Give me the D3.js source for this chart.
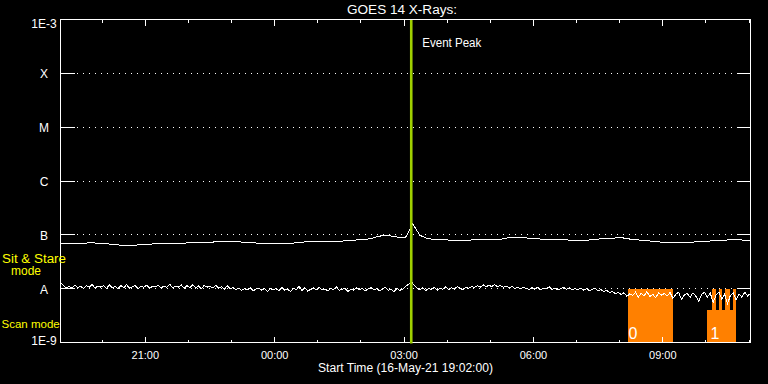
<!DOCTYPE html>
<html><head><meta charset="utf-8">
<script src="https://cdn.jsdelivr.net/npm/d3@7"></script>
<style>
body{margin:0;background:#000}
svg{display:block}
text{font-family:"Liberation Sans",Arial,sans-serif;fill:#fff}
</style>
</head><body>
<svg id="c" width="768" height="384"></svg>
<script>
// ---------- data ----------
const chartTitle = "GOES 14 X-Rays:";
const xAxisTitle = "Start Time (16-May-21 19:02:00)";
const startTime = "2021-05-16T19:02:00Z";
const endTime = "2021-05-17T11:02:00Z";
const xTickLabels = ["21:00", "00:00", "03:00", "06:00", "09:00"];
const yTickValues = [1e-9, 1e-8, 1e-7, 1e-6, 1e-5, 1e-4, 1e-3];
const yTickLabels = ["1E-9", "A", "B", "C", "M", "X", "1E-3"];
const eventPeakTime = "2021-05-17T03:10:00Z";
const eventLabel = "Event Peak";
const modeLabelTexts = ["Sit & Stare", "mode", "Scan mode"];

// long channel (1-8 A), flux in units of 1e-9 W/m^2, every 10 minutes from start
const longStepMin = 10;
const longFlux = [
  69, 68, 68, 68, 72, 70, 69, 67, 65, 63, 64, 65, 66, 68, 68, 69, 70, 70, 71, 72,
  73, 73, 75, 76, 76, 74, 71, 71, 69, 68, 68, 70, 70, 71, 74, 74, 74, 74, 76, 76,
  79, 80, 82, 84, 92, 98, 95, 90, 89, 160, 98, 86, 82, 82, 80, 80, 80, 80, 81, 83,
  83, 81, 87, 90, 89, 87, 86, 83, 83, 82, 82, 79, 77, 79, 81, 84, 85, 87, 89, 84,
  82, 78, 77, 74, 73, 73, 72, 71, 73, 76, 76, 78, 78, 81, 81, 80, 80
];

// short channel (0.5-4 A), flux in units of 1e-9 W/m^2, every 4 minutes from start
const shortStepMin = 4;
const shortFlux = [
  13.0, 11.5, 10.4, 11.0, 10.2, 11.6, 10.5, 11.2, 10.0, 11.4, 10.6, 12.0, 10.3, 11.1, 10.7,
  11.3, 10.1, 11.8, 10.5, 11.0, 9.9, 11.5, 10.4, 11.9, 10.2, 10.9, 11.4, 10.0, 11.2, 10.6,
  11.7, 10.3, 11.0, 10.8, 11.6, 10.1, 11.3, 10.6, 12.1, 10.4, 11.1, 10.7, 11.8, 10.2, 11.4,
  10.5, 11.9, 10.3, 11.2, 10.0, 11.5, 10.7, 11.0, 10.4, 11.6, 10.2, 10.9, 9.8, 11.3, 10.0,
  10.5, 9.6, 10.2, 9.3, 10.0, 9.5, 10.4, 9.1, 9.8, 10.3, 9.4, 9.9, 8.9, 10.1, 9.5,
  10.0, 9.2, 10.6, 9.4, 9.8, 8.8, 10.2, 9.6, 11.0, 9.3, 10.4, 9.0, 9.7, 10.3, 9.5,
  10.5, 9.4, 9.9, 9.0, 10.2, 9.6, 10.8, 9.3, 9.7, 10.1, 8.9, 9.8, 9.4, 10.3, 9.6,
  10.0, 9.2, 9.8, 10.4, 9.5, 10.0, 9.1, 9.9, 10.5, 9.4, 9.7, 8.8, 10.1, 9.3, 9.8,
  11.0, 12.0, 13.5, 11.5, 10.2, 9.5, 10.4, 9.2, 10.1, 9.6, 10.6, 9.3, 10.2, 9.7, 10.8,
  9.5, 10.4, 9.8, 10.9, 10.1, 9.6, 10.7, 10.2, 11.0, 10.5, 11.4, 10.6, 11.8, 10.9, 11.5,
  11.0, 11.9, 10.8, 11.5, 10.6, 11.2, 10.4, 11.0, 10.1, 10.7, 9.9, 10.5, 10.2, 9.7, 10.4,
  9.8, 10.6, 9.5, 10.2, 9.9, 10.8, 9.6, 10.3, 9.4, 10.1, 10.6, 9.7, 10.4, 9.5, 10.0,
  9.6, 10.2, 9.4, 9.9, 9.2, 9.8, 10.3, 9.1, 9.6, 8.8, 9.3, 8.4, 8.9, 8.0, 8.6,
  7.8, 8.4, 7.2, 8.0, 7.5, 8.6, 7.0, 8.2, 7.4, 8.8, 7.1, 7.9, 6.8, 8.3, 7.6,
  8.1, 7.3, 8.5, 6.6, 7.8, 8.6, 6.3, 7.7, 8.2, 6.9, 8.4, 7.2, 5.8, 7.9, 8.5,
  7.0, 8.3, 5.5, 7.6, 8.7, 6.4, 7.9, 5.2, 7.5, 8.4, 6.2, 8.0, 6.9, 8.6, 7.3,
  8.2
];

// instrument mode spans: [start, end, top flux W/m^2]
const modeSpanStart = ["2021-05-17T08:11:00Z", "2021-05-17T10:02:00Z", "2021-05-17T10:08:00Z", "2021-05-17T10:17:30Z", "2021-05-17T10:27:00Z", "2021-05-17T10:37:00Z"];
const modeSpanEnd   = ["2021-05-17T09:13:30Z", "2021-05-17T10:42:00Z", "2021-05-17T10:13:30Z", "2021-05-17T10:23:00Z", "2021-05-17T10:33:00Z", "2021-05-17T10:42:00Z"];
const modeSpanTop   = [1e-8, 4.1e-9, 1e-8, 1e-8, 1e-8, 1e-8];
const modeValueLabels = ["0", "1"];
const modeValueTimes = ["2021-05-17T08:11:00Z", "2021-05-17T10:02:00Z"];

// ---------- drawing ----------
const svg = d3.select("#c");
const W = 768, H = 384;
const L = 60.5, R = 750.5, T = 19.5, B = 342.5;

svg.append("rect").attr("width", W).attr("height", H).attr("fill", "#000");

const t0 = new Date(startTime), t1 = new Date(endTime);
const x = d3.scaleUtc().domain([t0, t1]).range([L, R]);
const y = d3.scaleLog().domain([1e-9, 1e-3]).range([B, T]);
const crisp = v => Math.round(v - 0.5) + 0.5;

// dotted grid lines at class levels
const gridLevels = yTickValues.slice(1, -1);
svg.append("g").selectAll("line").data(gridLevels).join("line")
  .attr("x1", 77).attr("x2", 736)
  .attr("y1", d => crisp(y(d))).attr("y2", d => crisp(y(d)))
  .attr("stroke", "#fff").attr("stroke-width", 1)
  .attr("stroke-dasharray", "1 5").attr("shape-rendering", "crispEdges");

// mode spans
const modeData = modeSpanStart.map((s, i) => ({ s: new Date(s), e: new Date(modeSpanEnd[i]), top: modeSpanTop[i] }));
svg.append("g").selectAll("rect").data(modeData).join("rect")
  .attr("x", d => Math.round(x(d.s)))
  .attr("width", d => Math.round(x(d.e)) - Math.round(x(d.s)))
  .attr("y", d => Math.round(y(d.top)))
  .attr("height", d => Math.round(B + 0.5) - Math.round(y(d.top)))
  .attr("fill", "#ff8000").attr("shape-rendering", "crispEdges");

svg.append("g").selectAll("text").data(modeValueLabels).join("text")
  .attr("x", (d, i) => x(new Date(modeValueTimes[i])) + (i === 0 ? 1 : 3))
  .attr("y", 339)
  .attr("font-size", 16)
  .text(d => d);

// curves
svg.append("clipPath").attr("id", "plotclip").append("rect")
  .attr("x", L).attr("y", T).attr("width", R - L).attr("height", B - T);

const line = d3.line().x(d => x(d.t)).y(d => y(d.v));
const longData = longFlux.map((v, i) => ({ t: new Date(+t0 + i * longStepMin * 60000), v: v * 1e-9 }));
const shortData = shortFlux.map((v, i) => ({ t: new Date(+t0 + i * shortStepMin * 60000), v: v * 1e-9 }));

svg.append("path").datum(longData).attr("d", line)
  .attr("fill", "none").attr("stroke", "#fff").attr("stroke-width", 1)
  .attr("clip-path", "url(#plotclip)").attr("shape-rendering", "crispEdges");
svg.append("path").datum(shortData).attr("d", line)
  .attr("fill", "none").attr("stroke", "#fff").attr("stroke-width", 1)
  .attr("clip-path", "url(#plotclip)").attr("shape-rendering", "crispEdges");

// axes box
const ax = svg.append("g").attr("stroke", "#fff").attr("stroke-width", 1).attr("shape-rendering", "crispEdges");
ax.append("rect").attr("x", L).attr("y", T).attr("width", R - L).attr("height", B - T).attr("fill", "none");

// y ticks both sides
ax.selectAll(".yl").data(gridLevels).join("line").attr("class", "yl")
  .attr("x1", L).attr("x2", L + 14).attr("y1", d => crisp(y(d))).attr("y2", d => crisp(y(d)));
ax.selectAll(".yr").data(gridLevels).join("line").attr("class", "yr")
  .attr("x1", R - 14).attr("x2", R).attr("y1", d => crisp(y(d))).attr("y2", d => crisp(y(d)));

// x ticks top & bottom
const minorTicks = d3.utcHour.every(1).range(t0, t1);
const majorTicks = d3.utcHour.every(3).range(t0, t1);
const isMajor = d => d.getUTCHours() % 3 === 0;
minorTicks.forEach(d => {
  const len = isMajor(d) ? 6 : 3;
  const xx = crisp(x(d));
  ax.append("line").attr("x1", xx).attr("x2", xx).attr("y1", B).attr("y2", B - len);
  ax.append("line").attr("x1", xx).attr("x2", xx).attr("y1", T).attr("y2", T + len);
});

// event peak line
svg.append("line")
  .attr("x1", x(new Date(eventPeakTime))).attr("x2", x(new Date(eventPeakTime)))
  .attr("y1", T + 0.5).attr("y2", B + 1)
  .attr("stroke", "#9fd000").attr("stroke-width", 2.6);
svg.append("text").attr("x", x(new Date(eventPeakTime)) + 11).attr("y", 47)
  .attr("font-size", 12).attr("textLength", 59).attr("lengthAdjust", "spacingAndGlyphs")
  .text(eventLabel);

// x tick labels
svg.append("g").selectAll("text").data(majorTicks).join("text")
  .attr("x", d => x(d)).attr("y", 358.5).attr("text-anchor", "middle")
  .attr("font-size", 11)
  .text((d, i) => xTickLabels[i]);

// y tick labels
svg.append("g").selectAll("text").data(yTickValues).join("text")
  .attr("x", 44).attr("text-anchor", "middle")
  .attr("y", (d, i) => {
    const yy = y(d);
    if (i === yTickValues.length - 1) return yy + 8;
    if (i === 0) return yy + 2;
    return yy + 5;
  })
  .attr("font-size", 12)
  .text((d, i) => yTickLabels[i]);

// title and axis title
svg.append("text").attr("x", 402).attr("y", 13.5).attr("text-anchor", "middle")
  .attr("font-size", 12).attr("textLength", 110).attr("lengthAdjust", "spacingAndGlyphs")
  .text(chartTitle);
svg.append("text").attr("x", 405.5).attr("y", 371.5).attr("text-anchor", "middle")
  .attr("font-size", 12).attr("textLength", 175).attr("lengthAdjust", "spacingAndGlyphs")
  .text(xAxisTitle);

// mode labels (yellow)
const ml = svg.append("g");
ml.append("text").attr("x", 2).attr("y", 262.5).style("fill", "#ffff00").attr("font-size", 12)
  .attr("textLength", 64).attr("lengthAdjust", "spacingAndGlyphs").text(modeLabelTexts[0]);
ml.append("text").attr("x", 11).attr("y", 275).style("fill", "#ffff00").attr("font-size", 12)
  .text(modeLabelTexts[1]);
ml.append("text").attr("x", 1.5).attr("y", 327.5).style("fill", "#ffff00").attr("font-size", 11.5)
  .text(modeLabelTexts[2]);
</script>
</body></html>
